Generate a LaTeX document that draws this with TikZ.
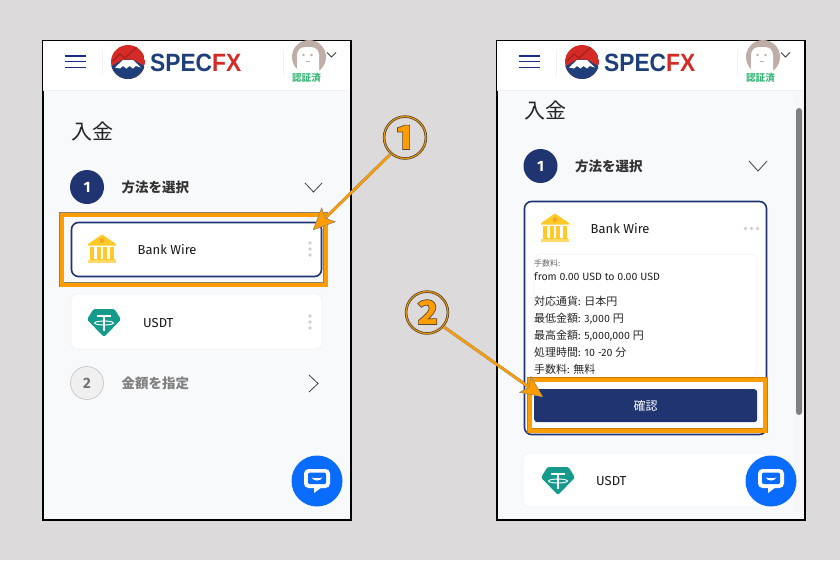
\documentclass[tikz,border=0pt]{standalone}
\usepackage{fontspec}
\setmainfont{Fira Sans}
\newfontfamily\cjk{Noto Sans CJK JP}
\newfontfamily\logofont{Liberation Sans}[FakeStretch=0.91]
\usetikzlibrary{arrows.meta}
\definecolor{pagebg}{HTML}{DCDADB}
\definecolor{bodybg}{HTML}{F8F9FB}
\definecolor{navy}{HTML}{1F3471}
\definecolor{callout}{HTML}{FF9D00}
\definecolor{calledge}{HTML}{8A8270}
\definecolor{gold}{HTML}{FFC928}
\definecolor{goldd}{HTML}{F5A623}
\definecolor{tether}{HTML}{169A8C}
\definecolor{chatblue}{HTML}{0A6CFF}
\definecolor{logored}{HTML}{D52B27}
\definecolor{logonavy}{HTML}{1F3F7A}
\definecolor{veri}{HTML}{3CB878}
\definecolor{skin}{HTML}{BFAEA8}
\definecolor{edgegrey}{HTML}{F0F1F4}
\definecolor{dotgrey}{HTML}{CFCFCF}
\newcommand{\J}[1]{{\cjk\fontsize{11}{11}\selectfont #1}}
\newcommand{\outlinedbig}[1]{\smash{\makebox[0pt]{\raisebox{-15pt}{\fontsize{46}{46}\cjk\bfseries\special{pdf:code q 2 Tr 0.7 w 0.35 0.3 0.2 RG}#1\special{pdf:code Q}}}}}
\tikzset{
  phone/.style={draw=black,line width=2pt,fill=bodybg},
  card/.style={draw=edgegrey,line width=.6pt,fill=white,rounded corners=6pt},
  activecard/.style={draw=navy,line width=1.6pt,fill=white,rounded corners=7pt},
  label/.style={anchor=west,inner sep=0pt,text=black!90,font=\fontsize{13}{13}\selectfont},
  steptitle/.style={anchor=west,inner sep=0pt,font=\cjk\bfseries\fontsize{13.5}{13.5}\selectfont,text=black!80},
  detail/.style={anchor=west,inner sep=0pt,font=\fontsize{10.6}{11}\selectfont,text=black!85},
  stepdone/.style={circle,fill=navy,minimum size=34pt,inner sep=0pt,text=white,font=\bfseries\fontsize{15}{15}\selectfont},
  steptodo/.style={circle,draw=black!20,fill=black!6,line width=.8pt,minimum size=33pt,inner sep=0pt,text=black!55,font=\bfseries\fontsize{15}{15}\selectfont},
  chev/.style={draw=black!75,line width=.8pt},
  hlbox/.style={draw=calledge,line width=.4pt,double=callout,double distance=4.4pt},
  numeral/.style={circle,minimum size=42pt,inner sep=0pt,text=callout},
  callarrow/.style={draw=callout,line width=2.2pt,preaction={draw=calledge,line width=3pt},
     -{Stealth[length=22pt,width=20pt,inset=5pt,fill=callout,color=calledge,line width=.4pt]}},
}
% header, drawn in a scope shifted by the phone's left edge
\newcommand{\appheader}{%
  \fill[white] (-53,41) rectangle (254,90);
  \draw[edgegrey,line width=.6pt] (-53,90) -- (254,90);
  \foreach \yy in {56,61.7,67.3} \draw[navy!85!blue,line width=1.4pt] (-31.5,\yy) -- (-10.5,\yy);
  \draw[edgegrey,line width=1pt] (6,50) -- (6,75);
  \draw[edgegrey,line width=1pt] (187,50) -- (187,75);
  \begin{scope}
    \clip (32,62) circle (17);
    \fill[logored] (15,45) rectangle (49,79);
    \fill[logonavy] (15,66) -- (49,66) -- (49,79) -- (15,79) -- cycle;
    \fill[logonavy] (15,66.5) -- (27,59.5) -- (37,59.5) -- (49,66.5) -- cycle;
    \fill[white] (19,67.5) -- (27,60) -- (37,60) -- (45,67.5) -- (39.5,66) -- (37,68.5) -- (33.5,66) -- (30.5,68.5) -- (27,66) -- (24,68.5) -- cycle;
    \draw[logored!75!black,line width=1.1pt] (17,61) -- (24,54) -- (29,58) -- (41,47);
  \end{scope}
  \node[anchor=west,inner sep=0pt,text=logonavy,font=\logofont\bfseries\fontsize{25}{25}\selectfont] at (54,62.5) {SPEC\textcolor{logored}{FX}};
  \fill[skin] (213,57) circle (17);
  \begin{scope}\clip (213,57) circle (17); \fill[white,rounded corners=8pt] (201,47) rectangle (223,80); \end{scope}
  \fill[skin] (207.5,55) circle (1.3) (215.5,55) circle (1.3);
  \draw[skin,line width=.8pt] (209.5,61.5) -- (213.5,61.5);
  \draw[chev] (231,52.5) -- (235.5,57) -- (240,52.5);
  \node[inner sep=0pt,text=veri,font=\cjk\bfseries\fontsize{9.6}{10}\selectfont] at (210.5,78) {認証済};
}
\newcommand{\bankicon}{%
  \fill[gold] (0,-14.5) -- (14,-5) -- (14,-3.5) -- (-14,-3.5) -- (-14,-5) -- cycle;
  \fill[goldd] (0,-8.5) circle (2.3);
  \foreach \cx in {-9.8,-3.3,3.3,9.8} \fill[gold] (\cx-2,-2.5) rectangle (\cx+2,10);
  \fill[gold] (-12.5,9.5) rectangle (12.5,11);
  \fill[gold!70!white] (-14,11) rectangle (14,14);
}
\newcommand{\tethericon}{%
  \fill[tether,rounded corners=1.5pt] (-10.5,-14) -- (10.5,-14) -- (17,-3.5) -- (0,14) -- (-17,-3.5) -- cycle;
  \draw[white,line width=2.3pt] (-7,-7) -- (7,-7) (0,-7) -- (0,8);
  \draw[white,line width=.9pt] (0,0) ellipse (9.5 and 2);
}
\newcommand{\chaticon}{%
  \fill[chatblue] (0,0) circle (25.5);
  \fill[white,rounded corners=4.5pt] (-13,-12) rectangle (13,7);
  \fill[white] (-3,6) -- (-3,12) -- (5,6) -- cycle;
  \fill[chatblue,rounded corners=2pt] (-9,-8.5) rectangle (9,3.2);
  \fill[white] (-5.5,-3.5) .. controls (-2,-2.5) and (2,-2.5) .. (5.5,-3.5) .. controls (3,0.5) and (-3,0.5) .. (-5.5,-3.5) -- cycle;
}
\begin{document}
\begin{tikzpicture}[x=1pt,y=-1pt]
\useasboundingbox (0,0) rectangle (840,560);
\fill[pagebg] (0,0) rectangle (840,560);

% ---------- left phone
\node[phone,anchor=north west,minimum width=308pt,minimum height=479pt,inner sep=0pt,outer sep=0pt] (phoneA) at (42.5,40.5) {};
\begin{scope}[xshift=96pt]\appheader\end{scope}
\node[anchor=west,inner sep=0pt,font=\cjk\fontsize{21}{21}\selectfont,text=black!85] (titleA) at (71,131.5) {入金};
\node[stepdone] (stepA) at (87,187) {1};
\node[steptitle] (stepAt) at (121.5,187) {方法を選択};
\draw[chev] (305,183) -- (313.5,192) -- (322,183);
\node[activecard,anchor=north west,minimum width=250pt,minimum height=54pt,inner sep=0pt,outer sep=0pt] (bankA) at (71.5,222.5) {};
\begin{scope}[shift={(102,249)}]\bankicon\end{scope}
\node[label] (bankAt) at (137.5,249.5) {Bank Wire};
\foreach \yy in {243,249,255} \fill[dotgrey] (310,\yy) circle (1.9);
\node[card,anchor=north west,minimum width=251pt,minimum height=55pt,inner sep=0pt,outer sep=0pt] (usdtA) at (71,294) {};
\begin{scope}[shift={(104,323)}]\tethericon\end{scope}
\node[label] (usdtAt) at (143,323) {USDT};
\foreach \yy in {316,322,328} \fill[dotgrey] (310,\yy) circle (1.9);
\node[steptodo] (stepB) at (87,383) {2};
\node[steptitle,text=black!50] (stepBt) at (121.5,383) {金額を指定};
\draw[chev] (309,375) -- (318,383.5) -- (309,392);
\begin{scope}[shift={(317,481)}]\chaticon\end{scope}

% ---------- right phone
\node[phone,anchor=north west,minimum width=308pt,minimum height=479pt,inner sep=0pt,outer sep=0pt] (phoneB) at (496.5,40.5) {};
\fill[black!3] (794,92) rectangle (804,511);
\fill[black!50,rounded corners=3pt] (796,108) rectangle (802,415);
\begin{scope}[xshift=550pt]\appheader\end{scope}
\node[anchor=west,inner sep=0pt,font=\cjk\fontsize{21}{21}\selectfont,text=black!85] (titleB) at (524.5,110) {入金};
\node[stepdone] (stepC) at (540.5,166) {1};
\node[steptitle] (stepCt) at (575,166) {方法を選択};
\draw[chev] (749,161) -- (758,171) -- (767,161);
\node[activecard,anchor=north west,minimum width=242pt,minimum height=233pt,inner sep=0pt,outer sep=0pt] (bankB) at (524.5,201.5) {};
\begin{scope}[shift={(555,228)}]\bankicon\end{scope}
\node[label] (bankBt) at (590.5,228.5) {Bank Wire};
\foreach \xx in {745.5,751.5,757.5} \fill[dotgrey] (\xx,228.5) circle (1.8);
\node[card,anchor=north west,minimum width=223pt,minimum height=123pt,inner sep=0pt,outer sep=0pt] (infoB) at (534,254) {};
\node[detail,font=\cjk\fontsize{8}{9}\selectfont,text=black!60] (feeH) at (534,263) {手数料:};
\node[detail] (feeV) at (534,276.5) {from 0.00 USD to 0.00 USD};
\node[detail] (d1) at (534,301) {\J{対応通貨}: \J{日本円}};
\node[detail] (d2) at (534,318.5) {\J{最低金額}: 3,000 \J{円}};
\node[detail] (d3) at (534,335.5) {\J{最高金額}: 5,000,000 \J{円}};
\node[detail] (d4) at (534,352.5) {\J{処理時間}: 10 -20 \J{分}};
\node[detail] (d5) at (534,369.5) {\J{手数料}: \J{無料}};
\node[anchor=north west,fill=navy,rounded corners=3pt,minimum width=223pt,minimum height=33pt,inner sep=0pt,text=white,font=\cjk\fontsize{12}{12}\selectfont] (confirm) at (534,389) {確認};
\node[card,anchor=north west,minimum width=244pt,minimum height=54pt,inner sep=0pt,outer sep=0pt] (usdtB) at (523,453) {};
\begin{scope}[shift={(558,481)}]\tethericon\end{scope}
\node[label] (usdtBt) at (596,481.5) {USDT};
\begin{scope}[shift={(771,481)}]\chaticon\end{scope}

% ---------- call-outs
\node[hlbox,anchor=north west,minimum width=264pt,minimum height=70pt,inner sep=0pt] (hlA) at (61.5,214.5) {};
\node[hlbox,anchor=north west,minimum width=235.5pt,minimum height=51pt,inner sep=0pt,draw=callout!80!black] (hlB) at (529.5,379.5) {};
\node[numeral] (numA) at (405,140) {\outlinedbig{①}};
\node[numeral] (numB) at (427,315) {\outlinedbig{②}};
\coordinate (tipA) at (313,230);
\coordinate (tipB) at (543,397);
\draw[callarrow] (numA) -- (tipA);
\draw[callarrow] (numB) -- (tipB);
\end{tikzpicture}
\end{document}
